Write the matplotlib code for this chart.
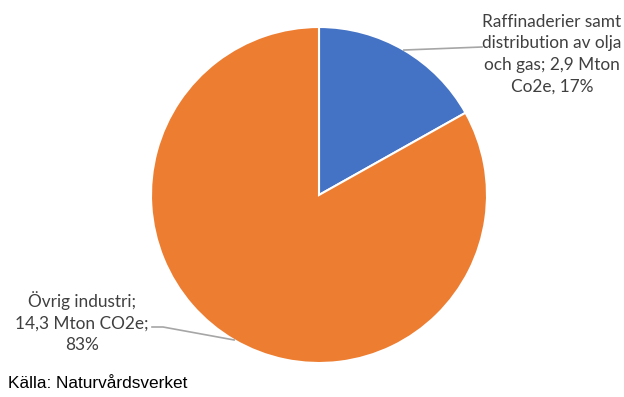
import numpy as np
import matplotlib.pyplot as plt

categories = ["Raffinaderier samt\ndistribution av olja\noch gas", "Övrig industri"]
mton = [2.9, 14.3]
shares = [17, 83]
unit_text = ["Co2e", "CO2e"]
colors = ["#4472C4", "#ED7D31"]

W, H = 624, 397
fig = plt.figure(figsize=(W / 100, H / 100), dpi=100)
ax = fig.add_axes([0, 0, 1, 1])

cx, cy, r = 319, H - 195, 168
wedges, _ = ax.pie(
    mton,
    colors=colors,
    startangle=90,
    counterclock=False,
    center=(cx, cy),
    radius=r,
    frame=True,
    wedgeprops=dict(edgecolor="white", linewidth=1.5),
)
ax.set_xlim(0, W)
ax.set_ylim(0, H)
ax.set_aspect("equal")
ax.axis("off")

label_font = dict(family="Lato", fontsize=12.4, color="#404040",
                  ha="center", va="center", linespacing=1.42)

blue_label = f"{categories[0]}; {str(mton[0]).replace('.', ',')} Mton\n{unit_text[0]}, {shares[0]}%"
orange_label = f"{categories[1]};\n{str(mton[1]).replace('.', ',')} Mton {unit_text[1]};\n{shares[1]}%"

# leader lines start at the middle of each wedge's arc
def arc_mid(w):
    t = np.deg2rad((w.theta1 + w.theta2) / 2)
    return cx + r * np.cos(t), cy + r * np.sin(t)

bx, by = arc_mid(wedges[0])
ax.text(552, H - 54, blue_label, **label_font)
ax.plot([bx, 482], [by, H - 47], color="#A6A6A6", lw=1.2)

ox, oy = arc_mid(wedges[1])
ax.text(82, H - 322, orange_label, **label_font)
ax.plot([ox, 163, 152], [oy, H - 327, H - 327], color="#A6A6A6", lw=1.2)

fig.text(8 / W, 1 - 383 / H, "Källa: Naturvårdsverket", family="Liberation Sans",
         fontsize=12.4, color="black", ha="left", va="center")

fig.savefig("out.png", dpi=100)
